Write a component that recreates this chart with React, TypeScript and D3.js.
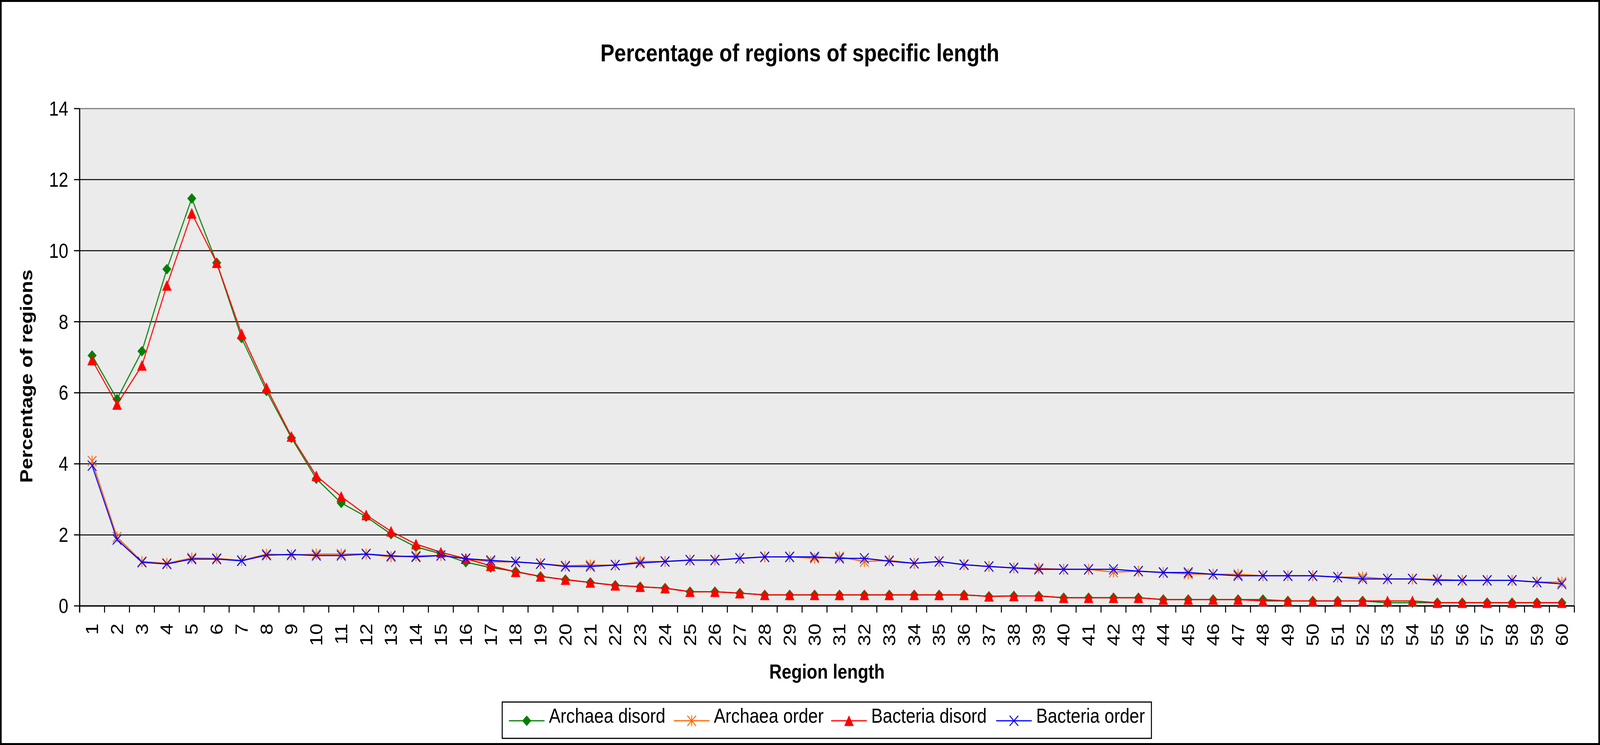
import React, { useRef, useEffect } from 'react';
import * as d3 from 'd3';

const categories = [
  '1', '2', '3', '4', '5', '6', '7', '8', '9', '10',
  '11', '12', '13', '14', '15', '16', '17', '18', '19', '20',
  '21', '22', '23', '24', '25', '26', '27', '28', '29', '30',
  '31', '32', '33', '34', '35', '36', '37', '38', '39', '40',
  '41', '42', '43', '44', '45', '46', '47', '48', '49', '50',
  '51', '52', '53', '54', '55', '56', '57', '58', '59', '60'
];

const archaeaDisord = [
  7.05, 5.82, 7.17, 9.48, 11.47, 9.66, 7.54, 6.05, 4.73, 3.58,
  2.9, 2.51, 2.02, 1.66, 1.47, 1.23, 1.08, 0.97, 0.83, 0.74,
  0.66, 0.58, 0.54, 0.5, 0.4, 0.4, 0.36, 0.31, 0.31, 0.31,
  0.31, 0.31, 0.31, 0.31, 0.31, 0.31, 0.27, 0.28, 0.28, 0.23,
  0.23, 0.23, 0.23, 0.18, 0.18, 0.18, 0.18, 0.18, 0.14, 0.14,
  0.14, 0.14, 0.09, 0.09, 0.09, 0.09, 0.09, 0.09, 0.09, 0.09
];

const archaeaOrder = [
  4.08, 1.94, 1.25, 1.2, 1.35, 1.34, 1.28, 1.46, 1.43, 1.46,
  1.46, 1.46, 1.38, 1.41, 1.42, 1.33, 1.24, 1.24, 1.19, 1.13,
  1.15, 1.15, 1.25, 1.25, 1.29, 1.29, 1.34, 1.38, 1.38, 1.34,
  1.38, 1.25, 1.28, 1.2, 1.25, 1.16, 1.11, 1.07, 1.06, 1.03,
  1.03, 0.95, 0.98, 0.94, 0.9, 0.89, 0.89, 0.85, 0.85, 0.85,
  0.81, 0.81, 0.76, 0.76, 0.75, 0.72, 0.72, 0.72, 0.67, 0.67
];

const bacteriaDisord = [
  6.92, 5.67, 6.77, 9.02, 11.05, 9.66, 7.66, 6.14, 4.77, 3.66,
  3.08, 2.56, 2.1, 1.74, 1.51, 1.33, 1.13, 0.96, 0.83, 0.74,
  0.66, 0.58, 0.54, 0.5, 0.4, 0.4, 0.36, 0.31, 0.31, 0.31,
  0.31, 0.31, 0.31, 0.31, 0.31, 0.31, 0.27, 0.28, 0.28, 0.23,
  0.23, 0.23, 0.23, 0.18, 0.18, 0.18, 0.18, 0.14, 0.14, 0.14,
  0.14, 0.14, 0.14, 0.14, 0.09, 0.09, 0.09, 0.09, 0.09, 0.09
];

const bacteriaOrder = [
  3.95, 1.87, 1.23, 1.18, 1.32, 1.32, 1.27, 1.43, 1.45, 1.42,
  1.42, 1.46, 1.41, 1.38, 1.42, 1.33, 1.28, 1.24, 1.19, 1.11,
  1.11, 1.15, 1.21, 1.25, 1.29, 1.29, 1.34, 1.38, 1.38, 1.38,
  1.34, 1.34, 1.26, 1.2, 1.25, 1.16, 1.11, 1.07, 1.03, 1.03,
  1.03, 1.03, 0.98, 0.94, 0.94, 0.89, 0.85, 0.85, 0.85, 0.85,
  0.81, 0.76, 0.76, 0.76, 0.72, 0.72, 0.72, 0.72, 0.67, 0.62
];

const seriesNames = ['Archaea disord', 'Archaea order', 'Bacteria disord', 'Bacteria order'];
const yTicks = [0, 2, 4, 6, 8, 10, 12, 14];

const FONT = '"Liberation Sans", Arial, sans-serif';

// marker shapes, centred on the point
const markerPath: Record<string, string> = {
  diamond: 'M0,-13L13,0L0,13L-13,0Z',
  triangle: 'M0,-13L13.5,13L-13.5,13Z',
  cross: 'M-13,-13L13,13M-13,13L13,-13',
  star: 'M-13,-13L13,13M-13,13L13,-13M0,-14L0,14'
};

export default function App(): JSX.Element {
  const divRef = useRef<HTMLDivElement>(null);

  useEffect(() => {
    const divEle = divRef.current;
    if (divEle == null) {
      return;
    }
    d3.select(divEle).selectAll('*').remove();

    // drawing units = reference pixels; the viewBox fits them to the window
    const W = 4801;
    const H = 1907;
    const plot = { left: 239, right: 4724, top: 278, bottom: 1551 };

    const series = [
      { name: seriesNames[0], values: archaeaDisord, color: '#008000', marker: 'diamond', filled: true },
      { name: seriesNames[1], values: archaeaOrder, color: '#FF6600', marker: 'star', filled: false },
      { name: seriesNames[2], values: bacteriaDisord, color: '#FF0000', marker: 'triangle', filled: true },
      { name: seriesNames[3], values: bacteriaOrder, color: '#0000FF', marker: 'cross', filled: false }
    ];

    const svg = d3
      .select(divEle)
      .append('svg')
      .attr('width', '100%')
      .attr('height', '100%')
      .attr('viewBox', `0 0 ${W} ${H}`)
      .attr('preserveAspectRatio', 'none')
      .style('display', 'block')
      .style('font-family', FONT);

    svg.append('rect').attr('width', W).attr('height', H).attr('fill', '#ffffff');

    const x = d3.scaleBand().domain(categories).range([plot.left, plot.right]);
    const y = d3.scaleLinear().domain([0, 14]).range([plot.bottom, plot.top]);
    const cx = (c: string) => (x(c) as number) + x.bandwidth() / 2;

    // plot area
    svg
      .append('rect')
      .attr('x', plot.left)
      .attr('y', plot.top)
      .attr('width', plot.right - plot.left)
      .attr('height', plot.bottom - plot.top)
      .attr('fill', '#EBEBEB');

    // gridlines
    svg
      .selectAll('.grid')
      .data(yTicks.filter((t) => t > 0 && t < 14))
      .join('line')
      .attr('x1', plot.left)
      .attr('x2', plot.right)
      .attr('y1', (d) => y(d))
      .attr('y2', (d) => y(d))
      .attr('stroke', '#000')
      .attr('stroke-width', 2.5);

    // top and right border of the plot area
    svg
      .append('path')
      .attr('d', `M${plot.left},${y(14)}H${plot.right}V${plot.bottom}`)
      .attr('fill', 'none')
      .attr('stroke', '#808080')
      .attr('stroke-width', 3);

    // y axis
    svg
      .append('line')
      .attr('x1', plot.left)
      .attr('x2', plot.left)
      .attr('y1', plot.top)
      .attr('y2', plot.bottom + 17)
      .attr('stroke', '#000')
      .attr('stroke-width', 3.5);
    svg
      .selectAll('.ytick')
      .data(yTicks)
      .join('line')
      .attr('x1', plot.left - 17)
      .attr('x2', plot.left)
      .attr('y1', (d) => y(d))
      .attr('y2', (d) => y(d))
      .attr('stroke', '#000')
      .attr('stroke-width', 3);
    svg
      .selectAll('.ylab')
      .data(yTicks)
      .join('text')
      .attr('x', 205)
      .attr('y', (d) => y(d) + 18)
      .attr('text-anchor', 'end')
      .attr('font-size', 52)
      .attr('fill', '#000')
      .text((d) => String(d));

    // x axis
    svg
      .append('line')
      .attr('x1', plot.left)
      .attr('x2', plot.right)
      .attr('y1', plot.bottom)
      .attr('y2', plot.bottom)
      .attr('stroke', '#000')
      .attr('stroke-width', 3.5);
    const bounds = categories.map((c) => x(c) as number).concat([plot.right]);
    svg
      .selectAll('.xtick')
      .data(bounds)
      .join('line')
      .attr('x1', (d) => d)
      .attr('x2', (d) => d)
      .attr('y1', plot.bottom)
      .attr('y2', plot.bottom + 17)
      .attr('stroke', '#000')
      .attr('stroke-width', 3);
    svg
      .selectAll('.xlab')
      .data(categories)
      .join('text')
      .attr('transform', (d) => `translate(${cx(d) + 18},1596) rotate(-90)`)
      .attr('text-anchor', 'end')
      .attr('font-size', 52)
      .attr('fill', '#000')
      .text((d) => d);

    // titles
    svg
      .append('text')
      .attr('x', 2400)
      .attr('y', 157)
      .attr('text-anchor', 'middle')
      .attr('font-size', 63)
      .attr('font-weight', 'bold')
      .text('Percentage of regions of specific length');
    svg
      .append('text')
      .attr('x', (plot.left + plot.right) / 2)
      .attr('y', 1737)
      .attr('text-anchor', 'middle')
      .attr('font-size', 52)
      .attr('font-weight', 'bold')
      .text('Region length');
    svg
      .append('text')
      .attr('transform', 'translate(97,963) rotate(-90)')
      .attr('text-anchor', 'middle')
      .attr('font-size', 52)
      .attr('font-weight', 'bold')
      .text('Percentage of regions');

    // series
    const line = d3
      .line<number>()
      .x((_, i) => cx(categories[i]))
      .y((d) => y(d));

    series.forEach((s) => {
      svg
        .append('path')
        .attr('d', line(s.values))
        .attr('fill', 'none')
        .attr('stroke', s.color)
        .attr('stroke-width', 3);
      svg
        .append('g')
        .selectAll('path')
        .data(s.values)
        .join('path')
        .attr('transform', (d, i) => `translate(${cx(categories[i])},${y(d)})`)
        .attr('d', markerPath[s.marker])
        .attr('fill', s.filled ? s.color : 'none')
        .attr('stroke', s.color)
        .attr('stroke-width', s.filled ? 1 : 2.6);
    });

    // legend
    const legend = { x: 1507, y: 1797, w: 1948, h: 93 };
    svg
      .append('rect')
      .attr('x', legend.x)
      .attr('y', legend.y)
      .attr('width', legend.w)
      .attr('height', legend.h)
      .attr('fill', '#fff')
      .attr('stroke', '#000')
      .attr('stroke-width', 3);
    const itemX = [1527, 2022, 2494, 2989];
    series.forEach((s, i) => {
      const g = svg.append('g').attr('transform', `translate(${itemX[i]},1845)`);
      g.append('line')
        .attr('x1', 0)
        .attr('x2', 107)
        .attr('stroke', s.color)
        .attr('stroke-width', 3);
      g.append('path')
        .attr('transform', 'translate(53.5,0)')
        .attr('d', markerPath[s.marker])
        .attr('fill', s.filled ? s.color : 'none')
        .attr('stroke', s.color)
        .attr('stroke-width', s.filled ? 1 : 2.6);
      g.append('text')
        .attr('x', 120)
        .attr('y', 5)
        .attr('font-size', 52)
        .attr('fill', '#000')
        .text(s.name);
    });

    // outer chart border
    svg
      .append('rect')
      .attr('x', 2.5)
      .attr('y', 2.5)
      .attr('width', W - 5)
      .attr('height', H - 5)
      .attr('fill', 'none')
      .attr('stroke', '#000')
      .attr('stroke-width', 5);
  }, []);

  return (
    <div
      ref={divRef}
      style={{ position: 'fixed', left: 0, top: 0, width: '100vw', height: '100vh', overflow: 'hidden' }}
    />
  );
}
